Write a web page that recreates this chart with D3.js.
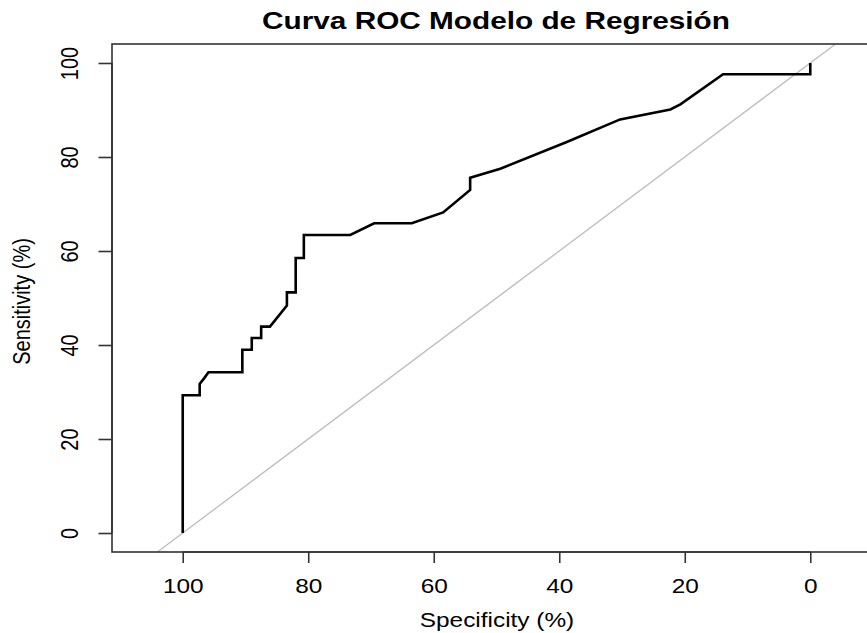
<!DOCTYPE html>
<html>
<head>
<meta charset="utf-8">
<script src="https://cdn.jsdelivr.net/npm/d3@7"></script>
<style>
  html, body { margin: 0; padding: 0; background: #fff; }
  svg { display: block; }
  text { font-family: "Liberation Sans", Arial, sans-serif; fill: #000; }
</style>
</head>
<body>
<svg id="chart" width="867" height="633"></svg>
<script>
// ---- data ----
const specificity = [100, 100, 97.3, 97.3, 96.6, 95.9, 90.5, 90.5, 89.0, 89.0, 87.5, 87.5, 86.1, 83.4, 83.4, 82.0, 82.0, 80.7, 80.7, 73.3, 69.5, 63.5, 58.5, 54.2, 54.2, 49.4, 38.8, 30.3, 22.3, 20.7, 13.9, 0, 0];
const sensitivity = [0, 29.3, 29.3, 31.7, 32.9, 34.2, 34.2, 39.0, 39.0, 41.5, 41.5, 43.9, 43.9, 48.4, 51.2, 51.2, 58.5, 58.5, 63.4, 63.4, 65.9, 65.9, 68.2, 73.0, 75.6, 77.5, 83.2, 88.0, 90.1, 91.2, 97.6, 97.6, 100];
const xTicks = [100, 80, 60, 40, 20, 0];
const yTicks = [0, 20, 40, 60, 80, 100];
const titleText = "Curva ROC Modelo de Regresión";
const xLabel = "Specificity (%)";
const yLabel = "Sensitivity (%)";
// chance line: sensitivity = 100 - specificity
const chanceIntercept = 100, chanceSlope = -1;

// ---- layout ----
const svg = d3.select("#chart");
const stretch = 1.22;
const box = { left: 112, right: 881, top: 44, bottom: 552 };
const x = d3.scaleLinear().domain([111.27, -11.27]).range([box.left, box.right]);
const y = d3.scaleLinear().domain([-4.04, 104.04]).range([box.bottom, box.top]);

svg.append("defs").append("clipPath").attr("id", "plotclip")
  .append("rect")
  .attr("x", box.left).attr("y", box.top)
  .attr("width", box.right - box.left).attr("height", box.bottom - box.top);

// chance diagonal
const yd = y.domain();
const diag = yd.map(s => [(s - chanceIntercept) / chanceSlope, s]);
svg.append("line")
  .attr("clip-path", "url(#plotclip)")
  .attr("x1", x(diag[0][0])).attr("y1", y(diag[0][1]))
  .attr("x2", x(diag[1][0])).attr("y2", y(diag[1][1]))
  .attr("stroke", "#bdbdbd").attr("stroke-width", 1.3);

// ROC curve
const pts = specificity.map((s, i) => [s, sensitivity[i]]);
svg.append("path")
  .datum(pts)
  .attr("clip-path", "url(#plotclip)")
  .attr("fill", "none")
  .attr("stroke", "#000")
  .attr("stroke-width", 2.6)
  .attr("stroke-linejoin", "miter")
  .attr("d", d3.line().x(d => x(d[0])).y(d => y(d[1])));

// box
svg.append("rect")
  .attr("x", box.left).attr("y", box.top)
  .attr("width", box.right - box.left).attr("height", box.bottom - box.top)
  .attr("fill", "none").attr("stroke", "#333").attr("stroke-width", 1.6);

// x axis
const gx = svg.append("g").attr("transform", `translate(0,${box.bottom})`)
  .call(d3.axisBottom(x).tickValues(xTicks).tickSize(11).tickSizeOuter(0).tickFormat(d3.format("d")));
gx.select(".domain").attr("d", `M${x(100)},0H${x(0)}`).attr("stroke", "#333").attr("stroke-width", 1.6);
gx.selectAll(".tick line").attr("stroke", "#333").attr("stroke-width", 1.6);
gx.selectAll(".tick text")
  .attr("y", 0).attr("dy", null)
  .attr("transform", `translate(0,41) scale(${stretch},1)`)
  .attr("font-size", 20).attr("fill", "#000")
  .attr("font-family", "Liberation Sans, Arial, sans-serif");

// y axis
const gy = svg.append("g").attr("transform", `translate(${box.left},0)`)
  .call(d3.axisLeft(y).tickValues(yTicks).tickSize(13.5).tickSizeOuter(0).tickFormat(d3.format("d")));
gy.select(".domain").attr("d", `M0,${y(0)}V${y(100)}`).attr("stroke", "#333").attr("stroke-width", 1.6);
gy.selectAll(".tick line").attr("stroke", "#333").attr("stroke-width", 1.6);
gy.selectAll(".tick text")
  .attr("x", 0).attr("dy", null)
  .attr("text-anchor", "middle")
  .attr("transform", `translate(-34,0) scale(${stretch},1) rotate(-90)`)
  .attr("font-size", 20).attr("fill", "#000")
  .attr("font-family", "Liberation Sans, Arial, sans-serif");

// title
svg.append("text")
  .attr("transform", `translate(496,29) scale(${stretch},1)`)
  .attr("text-anchor", "middle")
  .attr("font-weight", "bold")
  .attr("font-size", 24.4)
  .text(titleText);

// axis labels
svg.append("text")
  .attr("transform", `translate(497,627) scale(${stretch},1)`)
  .attr("text-anchor", "middle")
  .attr("font-size", 20)
  .text(xLabel);

svg.append("text")
  .attr("transform", `translate(30,301.5) scale(${stretch},1) rotate(-90)`)
  .attr("text-anchor", "middle")
  .attr("font-size", 20)
  .text(yLabel);
</script>
</body>
</html>
